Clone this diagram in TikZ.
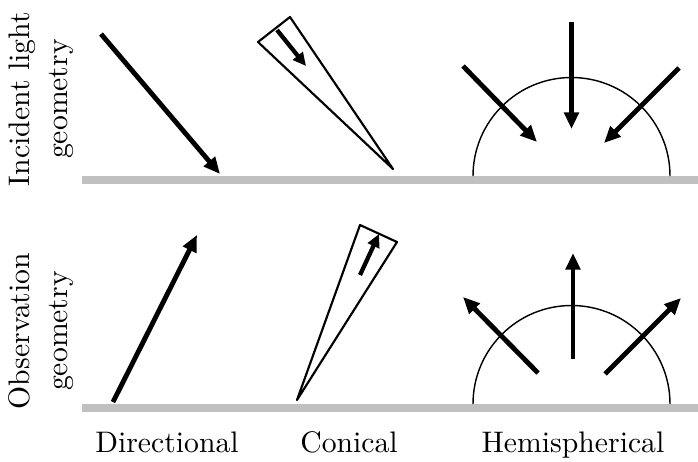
\documentclass[tikz,border=0pt]{standalone}
\usepackage{tikz}
\usetikzlibrary{arrows.meta}
\definecolor{floorgray}{RGB}{192,192,192}

\begin{document}
\begin{tikzpicture}[
  x=0.35pt, y=-0.35pt,
  font=\fontsize{10.4}{13.2}\selectfont,
  ray/.style={-{Triangle[length=5.8pt,width=5pt]}, line width=1.7pt, black},
  smallray/.style={-{Triangle[length=4.6pt,width=4.3pt]}, line width=1.5pt, black},
  cone/.style={line width=0.75pt, line join=round},
  dome/.style={line width=0.5pt},
  floor/.style={line width=2.8pt, floorgray},
  rowlabel/.style={rotate=90, align=center},
  collabel/.style={anchor=base},
]
\useasboundingbox (0,0) rectangle (698,461);

% -------------------------------------------------------------------------
% Row labels and column labels.
% -------------------------------------------------------------------------
\node[rowlabel] (incident) at (41,99) {Incident light\\geometry};
\node[rowlabel] (observe) at (41,331) {Observation\\geometry};
\node[collabel] (directional) at (167,452) {Directional};
\node[collabel] (conical) at (349,452) {Conical};
\node[collabel] (hemi) at (573,452) {Hemispherical};

% -------------------------------------------------------------------------
% Top row: incident light.
% -------------------------------------------------------------------------
\draw[floor] (82,180) -- (698,180);

% directional
\draw[ray] (101,34) -- (220,174);

% conical
\draw[cone] (393,169) -- (258,42) -- (290,17) -- cycle;
\draw[smallray] (277,30) -- (306,66);

% hemispherical
\draw[dome] (473,176) arc[start angle=180, end angle=360, radius=98.5];
\draw[ray] (463,66) -- (537,142);
\draw[ray] (571.5,22) -- (571.5,129);
\draw[ray] (679,68) -- (604,143);

% -------------------------------------------------------------------------
% Bottom row: observation.
% -------------------------------------------------------------------------
\draw[floor] (82,408) -- (698,408);

% directional
\draw[ray] (113,402) -- (197,235);

% conical
\draw[cone] (297,400) -- (360,225) -- (397,242) -- cycle;
\draw[smallray] (360,275) -- (379,234);

% hemispherical
\draw[dome] (473,404) arc[start angle=180, end angle=360, radius=98.5];
\draw[ray] (538,373) -- (463,297);
\draw[ray] (573,359) -- (573,253);
\draw[ray] (605,374) -- (681,298);

\end{tikzpicture}
\end{document}
